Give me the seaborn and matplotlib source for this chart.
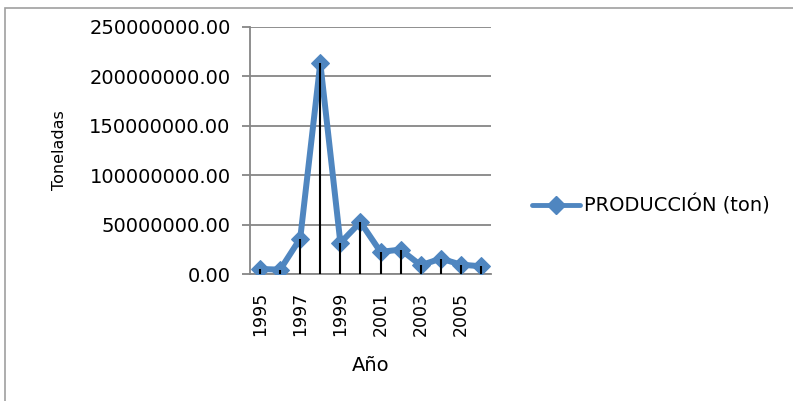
import matplotlib
matplotlib.use("Agg")
import matplotlib.pyplot as plt
import seaborn as sns
import pandas as pd
from matplotlib.patches import Rectangle
from matplotlib.lines import Line2D
from matplotlib.ticker import FuncFormatter, FixedLocator

years = ["1995", "1996", "1997", "1998", "1999", "2000", "2001", "2002", "2003", "2004", "2005", "2006"]
produccion = [5.1e6, 4.4e6, 35.9e6, 213.4e6, 31.5e6, 52.5e6, 22.4e6, 24.7e6, 8.8e6, 15.6e6, 9.5e6, 7.8e6]
series_name = "PRODUCCIÓN (ton)"
y_ticks = [0, 50e6, 100e6, 150e6, 200e6, 250e6]

sns.set_style("white")
plt.rcParams['font.family'] = ['DejaVu Sans']
plt.rcParams['text.color'] = 'black'
plt.rcParams['axes.labelcolor'] = 'black'
plt.rcParams['xtick.color'] = 'black'
plt.rcParams['ytick.color'] = 'black'

df = pd.DataFrame({"pos": range(len(years)), "year": years, "value": produccion})

fig = plt.figure(figsize=(7.93, 4.01), dpi=100)
ax = fig.add_axes([250/793, 1-274/401, 241/793, 247/401])

blue = "#4F86C0"
sns.lineplot(data=df, x="pos", y="value", ax=ax, color=blue, linewidth=4.3,
             marker="D", markersize=9, markeredgecolor=blue, label=series_name,
             zorder=3, legend=False)
ax.vlines(df["pos"], 0, df["value"], color="black", linewidth=1.5, zorder=4)

ax.set_xlim(-0.5, len(years) - 0.5)
ax.set_ylim(0, 250e6)
ax.yaxis.set_major_locator(FixedLocator(y_ticks))
ax.yaxis.set_major_formatter(FuncFormatter(lambda v, p: f"{v:.2f}"))
ax.set_xticks(list(range(0, len(years), 2)))
ax.set_xticklabels(years[::2], rotation=90, fontsize=12.5)
ax.tick_params(axis="y", labelsize=14, length=6, width=1.3, color="#868686", labelcolor="black",
               direction="out", pad=8, left=True)
ax.tick_params(axis="x", length=0, pad=13, labelcolor="black")
ax.grid(axis="y", color="#868686", linewidth=1.3)
ax.set_axisbelow(True)
for s in ["top", "right"]:
    ax.spines[s].set_visible(False)
ax.spines["left"].set_color("#868686")
ax.spines["left"].set_linewidth(1.3)
ax.spines["bottom"].set_color("#868686")
ax.spines["bottom"].set_linewidth(1.3)

ax.set_xlabel("Año", fontsize=14, labelpad=14)
ax.set_ylabel("Toneladas", fontsize=11.5, labelpad=16)

h = Line2D([], [], color=blue, linewidth=3.5, marker="D", markersize=9, markeredgecolor=blue)
fig.legend([h], [series_name], loc="center left", bbox_to_anchor=(514/793, 1-205/401),
           frameon=False, fontsize=14, handlelength=2.5, handletextpad=0.2, labelcolor="black")

fig.patches.append(Rectangle((5/793, -0.05), 1.1, 0.05 + (1-8/401), transform=fig.transFigure,
                             fill=False, edgecolor="#A0A0A0", linewidth=1.2))

fig.savefig("out.png", dpi=100)
